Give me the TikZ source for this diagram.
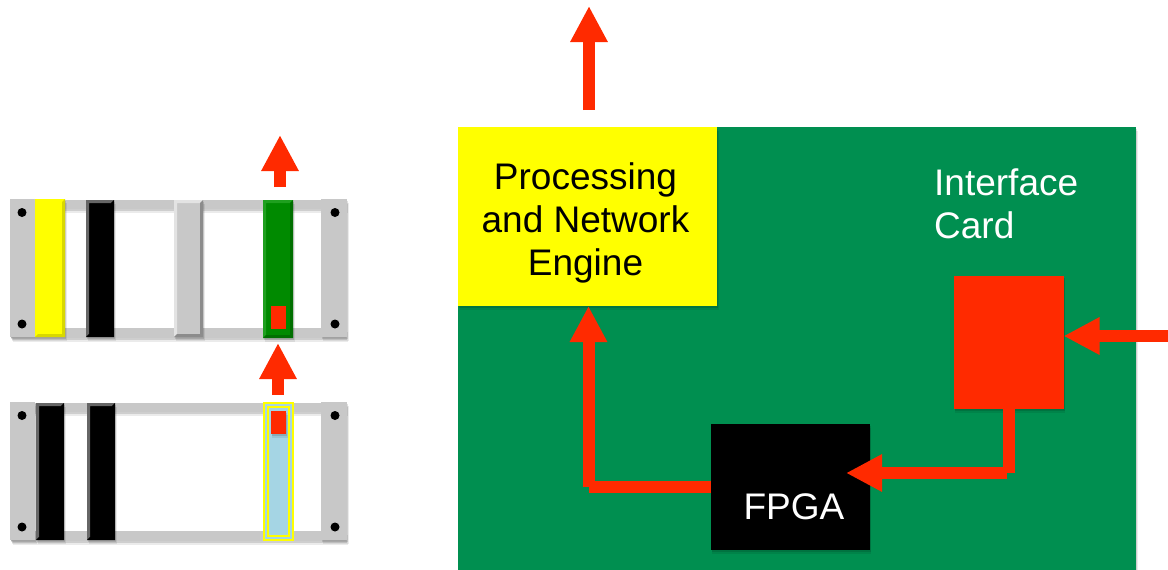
\documentclass[tikz,border=0pt]{standalone}
\usepackage{fontspec}
\setmainfont{Liberation Sans}
\usetikzlibrary{arrows.meta,shadows}
\definecolor{sigred}{HTML}{FF2A00}
\definecolor{boardgreen}{HTML}{008F50}
\definecolor{cardgreen}{HTML}{008A00}
\definecolor{edgegreen}{HTML}{1FA01F}
\definecolor{rimgreen}{HTML}{006F00}
\definecolor{railgray}{HTML}{C8C8C8}
\definecolor{cardblue}{HTML}{A5D5E4}
\definecolor{brightyellow}{HTML}{FFFF00}
\definecolor{rimyellow}{HTML}{D8D800}
\begin{document}
\begin{tikzpicture}[%
                x=1pt,y=-1pt,
                box/.style={anchor=north west,inner sep=0pt,outer sep=0pt},
                softshadow/.style={drop shadow={shadow xshift=1.5pt,shadow yshift=-4pt,opacity=0.08,fill=black},
                    drop shadow={shadow xshift=1pt,shadow yshift=-2pt,opacity=0.12,fill=black}},
                part/.style={box,fill=railgray,softshadow},
                sig/.style={draw=sigred,line width=12pt},
                sigend/.style={sig,-{Triangle[length=36pt,width=35pt]}},
                bigtext/.style={inner sep=0pt,font=\fontsize{37}{43}\selectfont}
        ]
            \useasboundingbox (0,0) rectangle (1168,570);
            % the two racks
            \foreach \rack/\ytop in {upper/199,lower/402} {
                \node [part,minimum width=335pt,minimum height=9pt] (\rack railtop) at (11,\ytop+1) {};
                \node [part,minimum width=335pt,minimum height=10pt] (\rack railbot) at (11,\ytop+129) {};
                \node [part,minimum width=25pt,minimum height=138pt] (\rack flangeL) at (10,\ytop) {};
                \node [part,minimum width=26pt,minimum height=138pt] (\rack flangeR) at (321,\ytop) {};
                \foreach \xs in {22,335}
                    \foreach \ys in {13.5,125}
                        \fill (\xs,\ytop+\ys) circle [radius=4.5];
            }
            % cards: name/x/y/width/height/face/left and top/right and bottom
            \foreach \cname/\cx/\cy/\cw/\ch/\cface/\clight/\cdark in {%
                    cardA/35/199/30/138/brightyellow/brightyellow/rimyellow,
                    cardB/86/200/28/137/black/black!60/black,
                    cardC/174/200/29/137/railgray/railgray!50/black!45,
                    cardD/263/200/30/138/cardgreen/edgegreen/rimgreen,
                    cardE/36/403/28/137/black/black!60/black,
                    cardF/87/403/28/137/black/black!60/black} {
                \node [box,fill=\cface,softshadow,minimum width=\cw pt,minimum height=\ch pt] (\cname) at (\cx,\cy) {};
                \fill [\clight] (\cname.north west) -- (\cname.north east) -- ([shift={(-3,3)}]\cname.north east)
                    -- ([shift={(3,3)}]\cname.north west) -- ([shift={(3,-3)}]\cname.south west) -- (\cname.south west) -- cycle;
                \fill [\cdark] (\cname.south east) -- (\cname.north east) -- ([shift={(-3,3)}]\cname.north east)
                    -- ([shift={(-3,-3)}]\cname.south east) -- ([shift={(3,-3)}]\cname.south west) -- (\cname.south west) -- cycle;
            }
            \node [box,fill=cardblue,draw=brightyellow,line width=1.5pt,minimum width=29pt,minimum height=137pt] (cardG) at (264,403) {};
            \draw [brightyellow,line width=1.2pt] ([shift={(4,4)}]cardG.north west) rectangle ([shift={(-4,-4)}]cardG.south east);
            \node [box,fill=sigred,minimum width=15.5pt,minimum height=23pt] (chipA) at (270.5,306) {};
            \node [box,fill=sigred,softshadow,minimum width=15.5pt,minimum height=23pt] (chipB) at (270.5,411) {};
            % small arrows over the racks
            \coordinate (outA) at (280,135);
            \coordinate (outB) at (278,343);
            \draw [sigend] (280,187) -- (outA);
            \draw [sigend] (278,395) -- (outB);
            % the board
            \node [box,fill=boardgreen,softshadow,minimum width=678pt,minimum height=460pt] (board) at (458,127) {};
            \node [box,fill=brightyellow,softshadow,minimum width=259pt,minimum height=179pt] (engine) at (458,127) {};
            \node [box,fill=sigred,softshadow,minimum width=110pt,minimum height=133pt] (chip) at (953.5,276) {};
            \node [box,fill=black,softshadow,minimum width=159pt,minimum height=126pt] (fpga) at (710.5,424) {};
            \node [bigtext,align=center] (enginelabel) at (585.5,222.5) {Processing\\and Network\\Engine};
            \node [bigtext,align=left,text=white,anchor=west] (cardlabel) at (934,203.5) {Interface\\Card};
            \node [bigtext,text=white] (fpgalabel) at (794,507) {FPGA};
            % signal path
            \coordinate (linein) at (1168,336);
            \coordinate (uplink) at (589,6);
            \coordinate (chipdown) at (1008.7,473);
            \coordinate (chipleft) at (1007,473);
            \coordinate (fpgain) at (846,473);
            \coordinate (fpgaleft) at (589,487);
            \coordinate (engineup) at (588.5,487);
            \draw [sigend] (linein) -- (linein -| chip.east);
            \draw [sig] (chipdown |- chip.south) -- (chipdown);
            \draw [sigend] (chipleft) -- (fpgain);
            \draw [sig] (fpgaleft -| fpga.west) -- (fpgaleft);
            \draw [sigend] (engineup) -- (engineup |- engine.south);
            \draw [sigend] ([shift={(1.5,-17)}]engine.north) -- (uplink);
        \end{tikzpicture}
\end{document}
